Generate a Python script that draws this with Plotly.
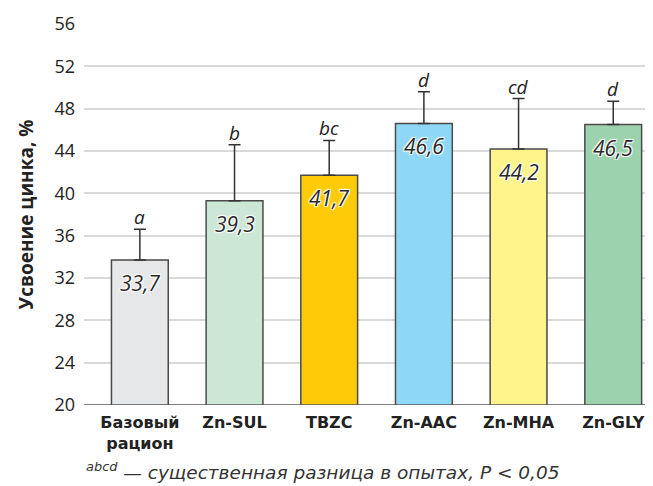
import plotly.graph_objects as go

categories = ["Базовый<br>рацион", "Zn-SUL", "TBZC", "Zn-AAC", "Zn-MHA", "Zn-GLY"]
values = [33.7, 39.3, 41.7, 46.6, 44.2, 46.5]
errors = [2.9, 5.3, 3.3, 3.0, 4.75, 2.2]
letters = ["a", "b", "bc", "d", "cd", "d"]
colors = ["#e6e7e8", "#cde7d6", "#ffcb08", "#8ed7f5", "#fff48b", "#9cd3ae"]
y_ticks = [20, 24, 28, 32, 36, 40, 44, 48, 52, 56]

FONT = "Open Sans, Noto Sans, sans-serif"
WIDE = "DejaVu Sans, Verdana, sans-serif"
idx = list(range(len(categories)))

fig = go.Figure()
fig.add_trace(go.Bar(
    x=idx, y=values, width=0.6,
    marker=dict(color=colors, line=dict(color="#4a4a4a", width=1.5)),
    error_y=dict(type="data", array=errors, symmetric=False, arrayminus=[0]*len(values),
                 color="#333333", thickness=1.5, width=6),
    hoverinfo="skip",
))

for i, (v, e, l) in enumerate(zip(values, errors, letters)):
    fig.add_annotation(x=i, y=v + e, text=l, showarrow=False, yanchor="bottom", yshift=-3,
                       font=dict(family=FONT, size=19, color="#222222", style="italic"))
    fig.add_annotation(x=i, y=v, text=f"{v:.1f}".replace(".", ","), showarrow=False,
                       yanchor="middle", yshift=-23,
                       font=dict(family=FONT, size=21, color="#2a2a2a", style="italic",
                                 shadow="1px 1px 1px white, -1px -1px 1px white, 1px -1px 1px white, -1px 1px 1px white"))

fig.add_annotation(xref="paper", yref="paper", x=0, y=-0.172, xanchor="left", yanchor="middle",
                   text="<sup>abcd</sup> — существенная разница в опытах, <i>P</i> < 0,05",
                   showarrow=False,
                   font=dict(family=WIDE, size=18.5, color="#333333", style="italic"))

fig.update_layout(
    width=645, height=478,
    margin=dict(l=76, r=0, t=16, b=81, autoexpand=False),
    plot_bgcolor="white", paper_bgcolor="white",
    showlegend=False,
    font=dict(family=FONT, color="#222222"),
    xaxis=dict(range=[-0.59, 5.42], tickmode="array", tickvals=idx, ticktext=categories,
               tickfont=dict(size=16, family=WIDE, weight="bold", color="#222222"),
               showgrid=False, showline=False, ticks="", zeroline=False, automargin=False,
               ticklabelstandoff=6),
    yaxis=dict(range=[20, 56], tickmode="array", tickvals=y_ticks,
               tickfont=dict(size=18, color="#222222"),
               showgrid=True, gridcolor="#d9d9d9", gridwidth=1.5, zeroline=False,
               showline=False, ticks="", ticklabelstandoff=8, automargin=False,
               title=dict(text="Усвоение цинка, %", font=dict(size=19, weight="bold", color="#222222"),
                          standoff=15)),
    shapes=[dict(type="line", xref="paper", yref="y", x0=0, x1=1, y0=20, y1=20,
                 line=dict(color="#555555", width=1.5), layer="above")],
)

fig.write_html("out.html")
